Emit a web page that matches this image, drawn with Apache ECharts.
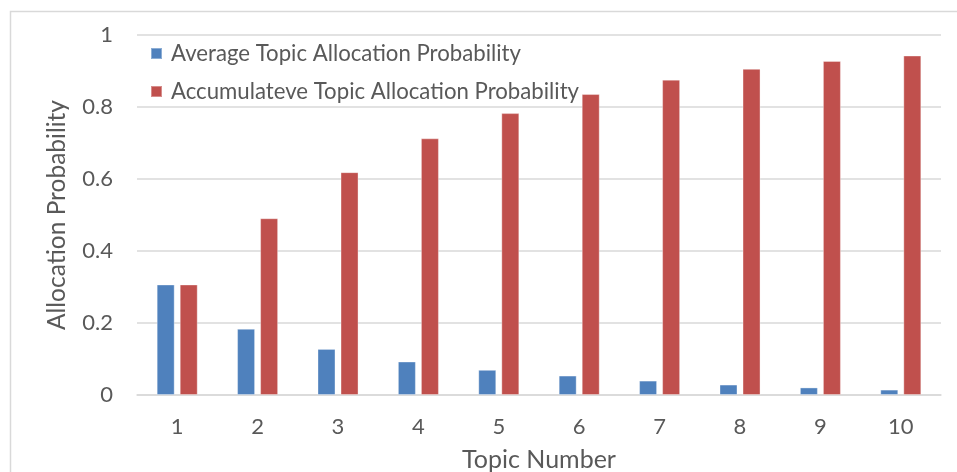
<!DOCTYPE html>
<html>
<head>
<meta charset="utf-8">
<script src="https://cdn.jsdelivr.net/npm/echarts@6/dist/echarts.min.js"></script>
<style>
html,body{margin:0;padding:0;background:#fff;}
#chart{width:957px;height:472px;}
</style>
</head>
<body>
<div id="chart"></div>
<script>
var categories = ['1','2','3','4','5','6','7','8','9','10'];
var averageProb = [0.307, 0.184, 0.128, 0.093, 0.070, 0.054, 0.040, 0.029, 0.021, 0.015];
var accumulatedProb = [0.307, 0.491, 0.619, 0.713, 0.783, 0.836, 0.876, 0.906, 0.928, 0.943];
var seriesNames = ['Average Topic Allocation Probability', 'Accumulateve Topic Allocation Probability'];
var xTitle = 'Topic Number';
var yTitle = 'Allocation Probability';

var FONT = 'Lato';
var TXT = '#595959';
var chart = echarts.init(document.getElementById('chart'), null, {renderer: 'canvas'});
chart.setOption({
  animation: false,
  backgroundColor: '#ffffff',
  textStyle: {fontFamily: FONT, color: TXT},
  graphic: [{
    type: 'rect', silent: true, z: -1,
    shape: {x: 10.5, y: 11.5, width: 1000, height: 1000},
    style: {fill: 'none', stroke: '#d9d9d9', lineWidth: 1.5}
  }],
  grid: {left: 137, right: 16, top: 35, bottom: 77, containLabel: false, outerBoundsMode: 'none'},
  legend: {
    orient: 'vertical', left: 145, top: 37,
    itemWidth: 11, itemHeight: 11, itemGap: 15,
    icon: 'rect',
    textStyle: {fontFamily: FONT, fontSize: 22.2, color: TXT, lineHeight: 23, padding: [0,0,0,4]},
    data: seriesNames
  },
  xAxis: {
    type: 'category', data: categories,
    name: xTitle, nameLocation: 'middle', nameGap: 52,
    nameTextStyle: {fontFamily: FONT, fontSize: 25, color: TXT},
    axisLine: {show: true, lineStyle: {color: '#d9d9d9', width: 1.5}},
    axisTick: {show: false},
    axisLabel: {fontFamily: FONT, fontSize: 22, color: TXT, margin: 21}
  },
  yAxis: {
    type: 'value', min: 0, max: 1, interval: 0.2,
    name: yTitle, nameLocation: 'middle', nameGap: 67, nameRotate: 90,
    nameTextStyle: {fontFamily: FONT, fontSize: 24.5, color: TXT},
    axisLine: {show: false}, axisTick: {show: false},
    axisLabel: {fontFamily: FONT, fontSize: 22, color: TXT, margin: 24},
    splitLine: {lineStyle: {color: '#d9d9d9', width: 1.5}}
  },
  series: [{
    name: seriesNames[0], type: 'bar', data: averageProb,
    barWidth: 18, barGap: '28%',
    itemStyle: {color: '#4F81BD', borderColor: 'rgba(255,255,255,0.35)', borderWidth: 1}
  }, {
    name: seriesNames[1], type: 'bar', data: accumulatedProb,
    barWidth: 18, barGap: '28%',
    itemStyle: {color: '#C0504D', borderColor: 'rgba(255,255,255,0.35)', borderWidth: 1}
  }]
});
</script>
</body>
</html>
